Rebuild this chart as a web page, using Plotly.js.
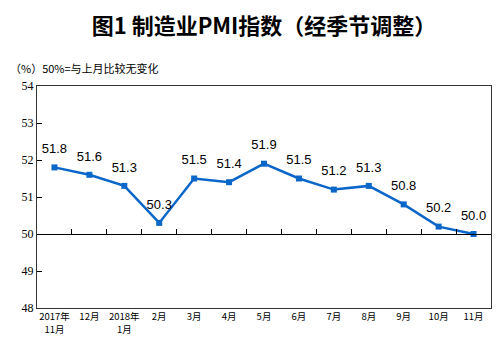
<!DOCTYPE html>
<html><head><meta charset="utf-8">
<script src="https://cdn.plot.ly/plotly-3.0.1.min.js"></script>
<style>body{margin:0;background:#fff}#c{width:498px;height:355px}</style>
</head><body><div id="c"></div>
<script>
const categories = ["2017年<br>11月","12月","2018年<br>1月","2月","3月","4月","5月","6月","7月","8月","9月","10月","11月"];
const pmi = [51.8,51.6,51.3,50.3,51.5,51.4,51.9,51.5,51.2,51.3,50.8,50.2,50.0];
const labels = pmi.map(v => v.toFixed(1));
const yTicks = [48,49,50,51,52,53,54];

const t = {top:86, bottom:308, left:37, right:491};
const H = 355, W = 498;
const ph = t.bottom - t.top, pw = t.right - t.left;
const pos50 = (50-48)/6;
const xr = [-0.5, categories.length - 0.5];

const data = [
 {x: categories, y: pmi, type:'scatter', mode:'lines+markers',
  line:{color:'#0a66c8', width:2.5}, marker:{symbol:'square', size:6, color:'#0a66c8'},
  cliponaxis:false, hoverinfo:'skip'},
 {x: categories, y: pmi, type:'scatter', mode:'markers+text',
  text: labels, textposition:'top center',
  textfont:{family:'Liberation Sans, Arial', size:13, color:'#000'},
  marker:{size:16, color:'rgba(0,0,0,0)'}, cliponaxis:false, hoverinfo:'skip'},
 {x: categories, y: pmi, xaxis:'x2', type:'scatter', mode:'none', hoverinfo:'skip', showlegend:false}
];
const layout = {
 width:W, height:H, showlegend:false,
 margin:{l:t.left, r:W-t.right, t:t.top, b:H-t.bottom},
 paper_bgcolor:'#fff', plot_bgcolor:'#fff',
 title:{text:'<b>图1 制造业PMI指数（经季节调整）</b>', x:0.5, xanchor:'center', xref:'paper', y:1-26/H, yanchor:'middle',
   font:{family:'Noto Sans CJK SC', size:22, color:'#000'}},
 xaxis:{type:'category', range:xr, showline:true, mirror:true, linecolor:'#333', linewidth:1,
   ticks:'', showgrid:false, zeroline:false,
   tickfont:{family:'Noto Sans CJK SC', size:9.5, color:'#000'}},
 xaxis2:{type:'category', range:xr, overlaying:'x', anchor:'free', position:pos50,
   showline:true, linecolor:'#000', linewidth:1, ticks:'inside', ticklen:5, tickcolor:'#000',
   tickson:'boundaries', showticklabels:false, showgrid:false, zeroline:false},
 yaxis:{range:[48,54], tickvals:yTicks, showline:true, mirror:true, linecolor:'#333', linewidth:1,
   ticks:'inside', ticklen:5, tickcolor:'#000', showgrid:false, zeroline:false,
   tickfont:{family:'Liberation Serif, Times New Roman', size:12, color:'#000'}},
 annotations:[{text:'（%）50%=与上月比较无变化', xref:'paper', yref:'paper',
   x:(8-t.left)/pw, xanchor:'left', y:(t.bottom-68)/ph, yanchor:'middle', showarrow:false,
   font:{family:'Noto Sans CJK SC', size:11, color:'#000'}}]
};
Plotly.newPlot('c', data, layout, {staticPlot:true});
</script></body></html>
